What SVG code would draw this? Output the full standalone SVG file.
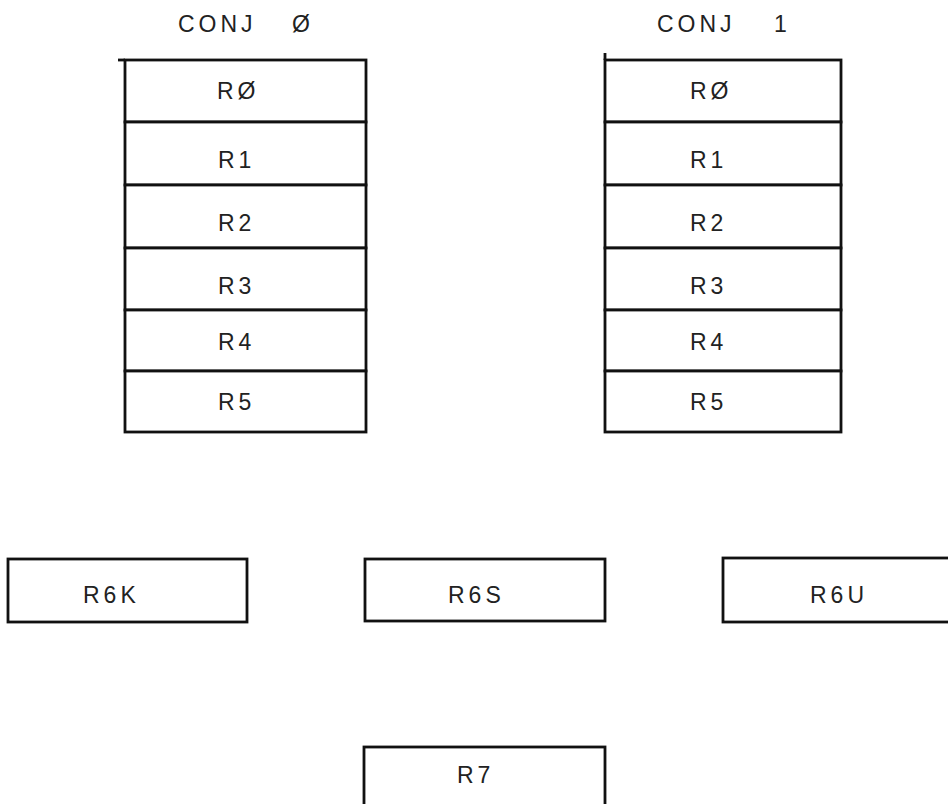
<svg xmlns="http://www.w3.org/2000/svg" width="948" height="804" viewBox="0 0 948 804">
  <style>
    .box { fill: #fff; stroke: #111; stroke-width: 2.8; }
    .ln { stroke: #111; stroke-width: 2.8; fill: none; }
    .t { font-family: "Liberation Sans", Arial, sans-serif; font-size: 23px; letter-spacing: 4px; fill: #222; font-weight: 300; }
  </style>
  <rect width="948" height="804" fill="#fff"/>

  <!-- headings -->
  <g id="conj0-title"><text class="t" x="178" y="32">CONJ<tspan x="292">Ø</tspan></text></g>
  <g id="conj1-title"><text class="t" x="657" y="32">CONJ<tspan x="774">1</tspan></text></g>

  <!-- register set 0 -->
  <g id="c0-r0"><rect class="box" x="125" y="60" width="241" height="62"/><text class="t" x="217" y="99">RØ</text></g>
  <g id="c0-r1"><rect class="box" x="125" y="122" width="241" height="63"/><text class="t" x="218" y="168">R1</text></g>
  <g id="c0-r2"><rect class="box" x="125" y="185" width="241" height="63"/><text class="t" x="218" y="231">R2</text></g>
  <g id="c0-r3"><rect class="box" x="125" y="248" width="241" height="62"/><text class="t" x="218" y="294">R3</text></g>
  <g id="c0-r4"><rect class="box" x="125" y="310" width="241" height="61"/><text class="t" x="218" y="350">R4</text></g>
  <g id="c0-r5"><rect class="box" x="125" y="371" width="241" height="61"/><text class="t" x="218" y="410">R5</text></g>

  <!-- register set 1 -->
  <g id="c1-r0"><rect class="box" x="605" y="60" width="236" height="62"/><text class="t" x="690" y="99">RØ</text></g>
  <g id="c1-r1"><rect class="box" x="605" y="122" width="236" height="63"/><text class="t" x="690" y="168">R1</text></g>
  <g id="c1-r2"><rect class="box" x="605" y="185" width="236" height="63"/><text class="t" x="690" y="231">R2</text></g>
  <g id="c1-r3"><rect class="box" x="605" y="248" width="236" height="62"/><text class="t" x="690" y="294">R3</text></g>
  <g id="c1-r4"><rect class="box" x="605" y="310" width="236" height="61"/><text class="t" x="690" y="350">R4</text></g>
  <g id="c1-r5"><rect class="box" x="605" y="371" width="236" height="61"/><text class="t" x="690" y="410">R5</text></g>

  <!-- stray plotter overshoots at the stack corners -->
  <g id="connectors">
    <line class="ln" x1="118" y1="60" x2="125" y2="60"/>
    <line class="ln" x1="605" y1="53" x2="605" y2="60"/>
  </g>

  <!-- R6 banks -->
  <g id="r6k"><rect class="box" x="8" y="559" width="239" height="63"/><text class="t" x="83" y="603">R6K</text></g>
  <g id="r6s"><rect class="box" x="365" y="559" width="240" height="62"/><text class="t" x="448" y="603">R6S</text></g>
  <g id="r6u"><rect class="box" x="723" y="558" width="240" height="64"/><text class="t" x="810" y="603">R6U</text></g>

  <!-- R7 -->
  <g id="r7"><rect class="box" x="364" y="747" width="241" height="70"/><text class="t" x="457" y="783">R7</text></g>
</svg>
